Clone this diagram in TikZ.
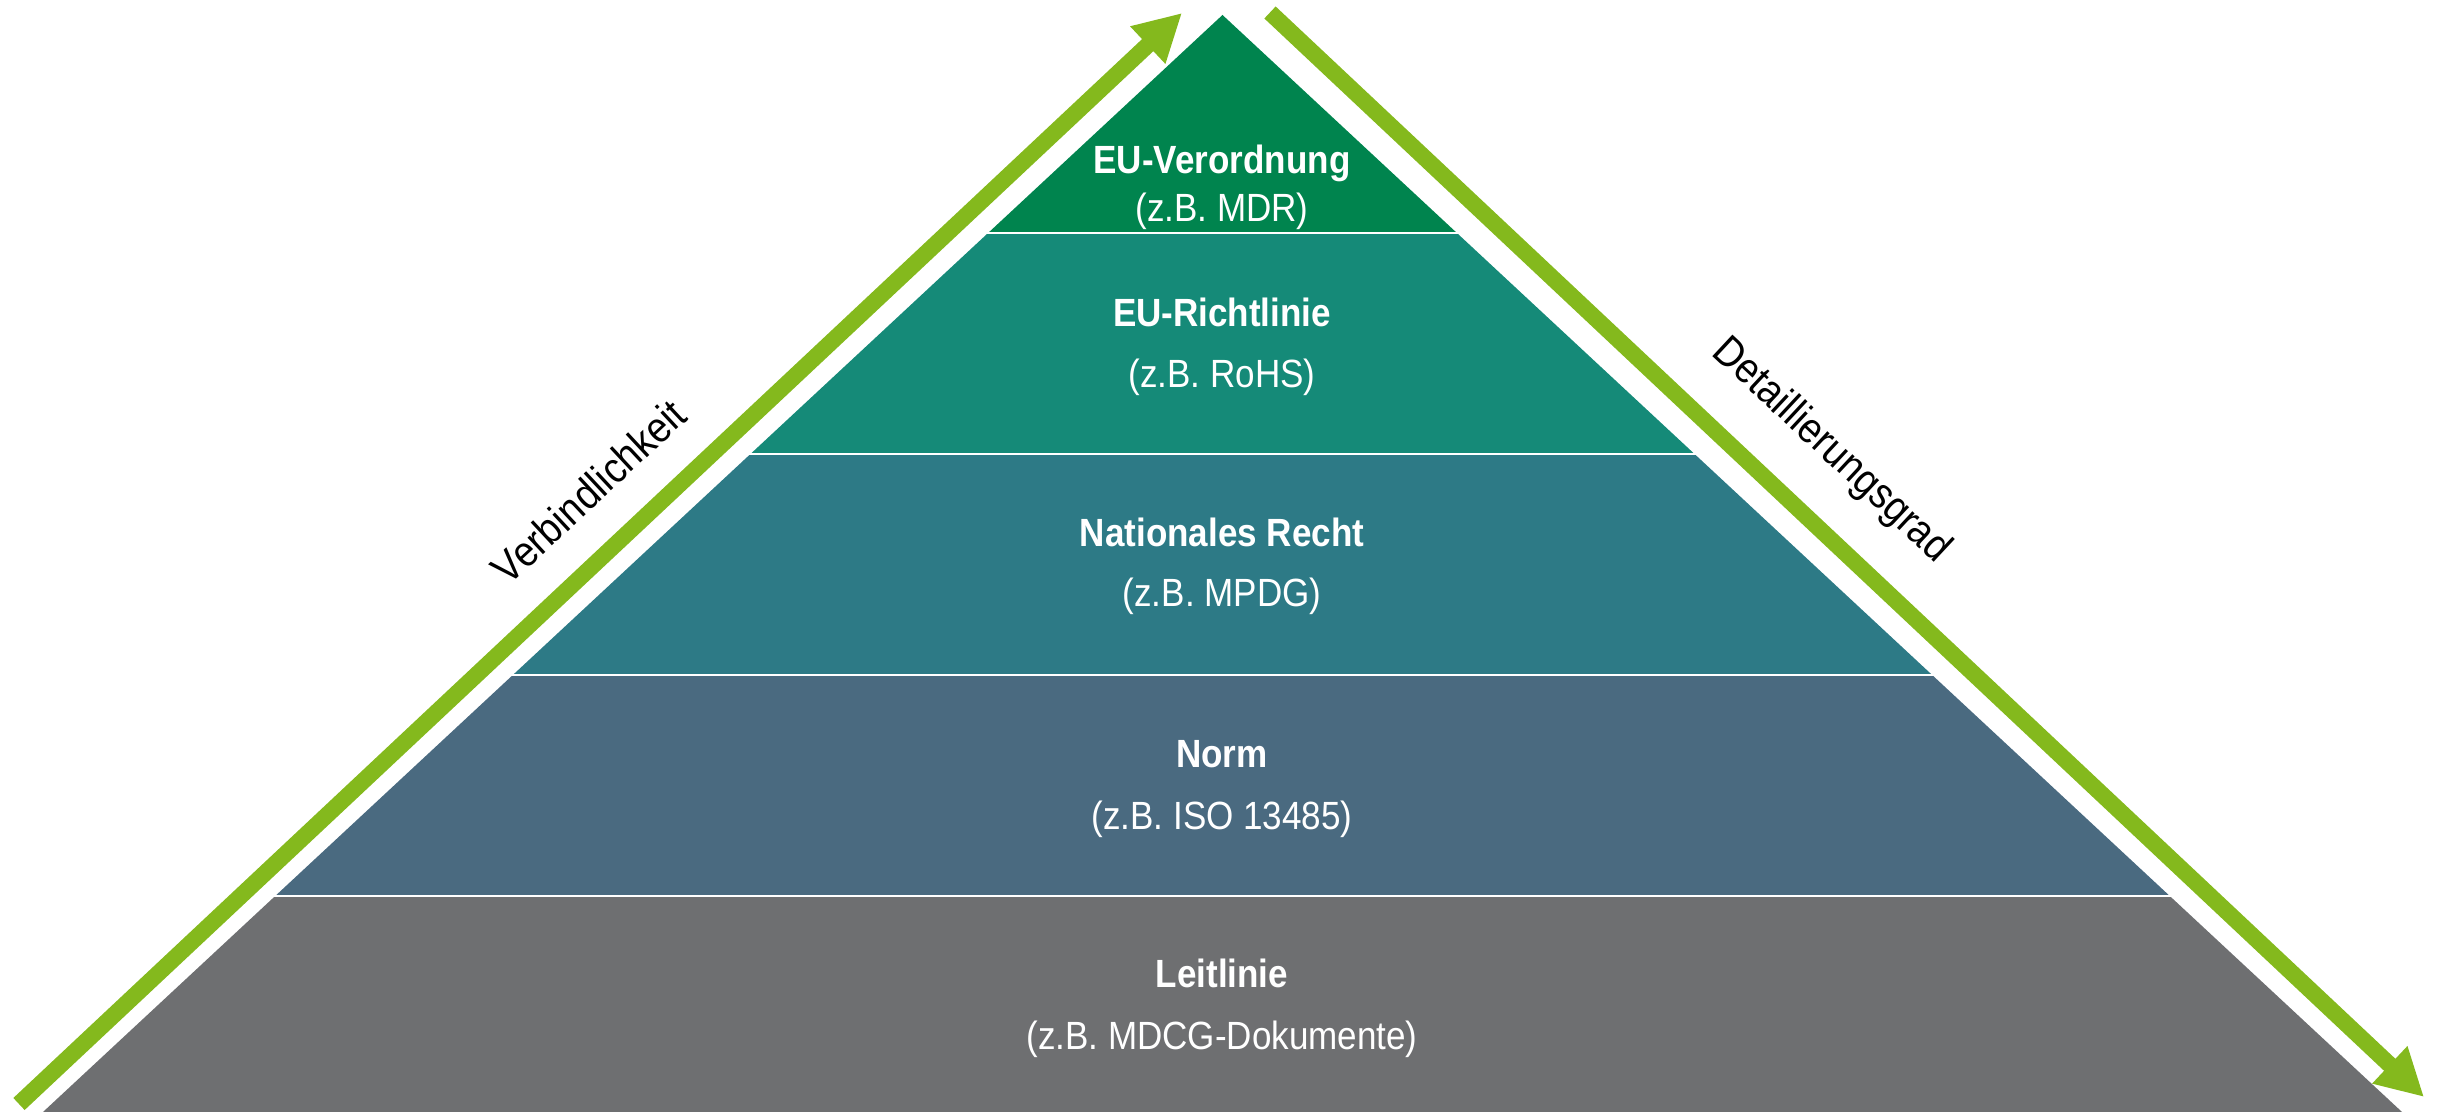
\documentclass[tikz,border=0pt]{standalone}
\usepackage{fontspec}
\setmainfont{Liberation Sans}[FakeStretch=0.89]
\usetikzlibrary{arrows.meta}

\definecolor{regGreen}{RGB}{0,132,78}
\definecolor{dirTeal}{RGB}{21,138,120}
\definecolor{natPetrol}{RGB}{45,122,134}
\definecolor{normBlue}{RGB}{74,106,128}
\definecolor{guideGrey}{RGB}{110,111,113}
\definecolor{arrowGreen}{RGB}{132,185,29}

\begin{document}
\begin{tikzpicture}[
  title/.style={text=white, font=\bfseries\fontsize{11.2}{13}\selectfont, anchor=base},
  example/.style={text=white, font=\fontsize{11.2}{13}\selectfont, anchor=base},
  side/.style={font=\fontsize{12.2}{14}\selectfont},
  trend/.style={draw=arrowGreen, line width=1.65mm, -{Triangle[length=4.7mm,width=4.8mm]}}
]
%\draw[style=help lines] (0,0) grid (24,11);
\useasboundingbox (0,0) rectangle (24.38,11.12);

\coordinate (apex) at (12.225,10.97);
\coordinate (base west) at (0.43,0);
\coordinate (base east) at (24.02,0);

% bands, bottom to top
\foreach \lo/\hi/\col in {0/2.145/guideGrey, 2.175/4.355/normBlue, 4.385/6.565/natPetrol, 6.595/8.775/dirTeal, 8.805/11.12/regGreen}{
  \begin{scope}
    \clip (0,\lo) rectangle (24.38,\hi);
    \fill[\col] (base west) -- (apex) -- (base east) -- cycle;
  \end{scope}
}

% band labels
\node[title] (reg) at (12.22,9.38) {EU-Verordnung};
	\node[example] (reg ex) at (12.22,8.90) {(z.B. MDR)};
\node[title] (dir) at (12.22,7.85) {EU-Richtlinie};
	\node[example] (dir ex) at (12.22,7.24) {(z.B. RoHS)};
\node[title] (nat) at (12.22,5.65) {Nationales Recht};
	\node[example] (nat ex) at (12.22,5.05) {(z.B. MPDG)};
\node[title] (norm) at (12.22,3.44) {Norm};
	\node[example] (norm ex) at (12.22,2.82) {(z.B. ISO 13485)};
\node[title] (guide) at (12.22,1.24) {Leitlinie};
	\node[example] (guide ex) at (12.22,0.62) {(z.B. MDCG-Dokumente)};

% left arrow
\coordinate (bind start) at (0.19,0.08);
\coordinate (bind end) at (11.82,10.99);
\draw[trend] (bind start) -- (bind end);
\node[side, rotate=43] (bind) at (5.885,6.205) {Verbindlichkeit};

% right arrow
\coordinate (detail start) at (12.70,10.995);
\coordinate (detail end) at (24.24,0.15);
\draw[trend] (detail start) -- (detail end);
\node[side, rotate=-43] (detail) at (18.31,6.61) {Detaillierungsgrad};

\end{tikzpicture}
\end{document}
